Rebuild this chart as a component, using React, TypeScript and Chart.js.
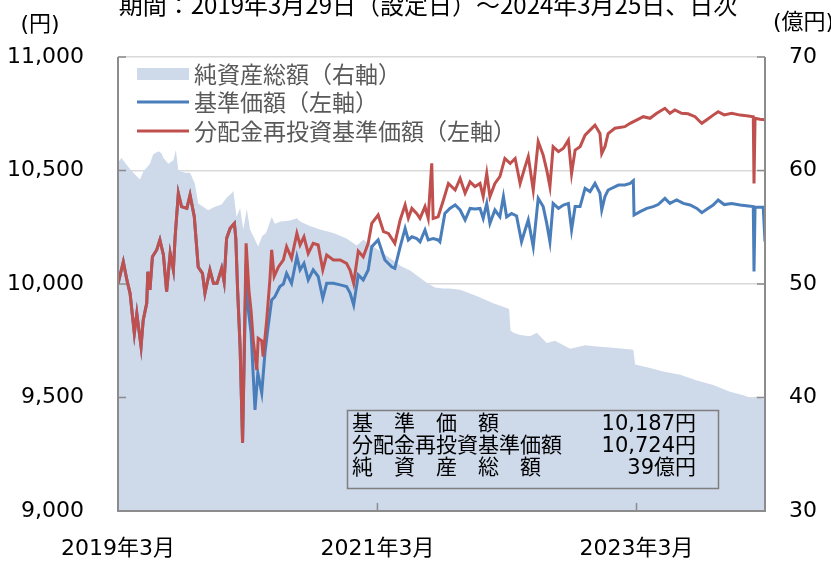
import React, { useEffect, useRef } from 'react';
import { Chart, registerables } from 'chart.js';

Chart.register(...registerables);

// x values are days since launch (2019-03-29); last day 2024-03-25
const lastDay = 1823;
const xTickDays = [0, 731, 1461];
const xTickLabels = ['2019年3月', '2021年3月', '2023年3月'];

// before the first distribution both price series coincide
const commonDays = [0, 15, 25, 34, 46, 53, 59, 65, 71, 81, 84, 90, 97, 109, 118, 128, 137, 147, 156, 161, 170, 179, 194, 203, 215, 226, 238, 245, 259, 269, 279, 292, 299, 306, 316, 328, 332, 337, 344, 351];
const commonValues = [10000, 10098, 10018, 9959, 9782, 9870, 9797, 9724, 9841, 9916, 10054, 9974, 10120, 10150, 10194, 10128, 9966, 10135, 10062, 10208, 10400, 10341, 10333, 10392, 10296, 10075, 10047, 9959, 10062, 10003, 10003, 10069, 10010, 10201, 10245, 10267, 10200, 9974, 9724, 9300];

// 分配金再投資基準価額 (red)
const reinvDays = [361, 369, 375, 381, 391, 395, 405, 409, 419, 428, 433, 440, 452, 466, 475, 489, 504, 513, 524, 536, 550, 564, 577, 588, 607, 626, 644, 654, 664, 677, 691, 705, 715, 733, 748, 762, 780, 795, 809, 818, 828, 842, 851, 865, 874, 884, 888, 902, 917, 931, 950, 964, 978, 992, 1006, 1020, 1029, 1039, 1048, 1062, 1076, 1090, 1105, 1119, 1133, 1147, 1156, 1170, 1184, 1198, 1208, 1217, 1226, 1241, 1255, 1269, 1278, 1288, 1302, 1316, 1330, 1344, 1358, 1363, 1372, 1381, 1400, 1428, 1443, 1461, 1480, 1499, 1518, 1541, 1555, 1569, 1588, 1606, 1626, 1640, 1645, 1660, 1677, 1691, 1708, 1729, 1753, 1776, 1790, 1792, 1795, 1809, 1823];
const reinvValues = [10179, 9970, 9880, 9753, 9621, 9761, 9750, 9680, 9841, 10018, 10150, 10033, 10075, 10106, 10164, 10113, 10223, 10172, 10208, 10135, 10179, 10172, 10062, 10128, 10106, 10106, 10091, 10060, 10003, 10145, 10120, 10179, 10267, 10304, 10231, 10223, 10179, 10282, 10348, 10290, 10333, 10310, 10289, 10341, 10290, 10532, 10289, 10296, 10370, 10443, 10414, 10465, 10400, 10450, 10429, 10443, 10385, 10487, 10385, 10443, 10473, 10553, 10531, 10553, 10443, 10517, 10561, 10414, 10627, 10568, 10502, 10429, 10605, 10583, 10598, 10634, 10487, 10590, 10605, 10656, 10678, 10700, 10663, 10575, 10605, 10663, 10686, 10693, 10708, 10722, 10737, 10730, 10752, 10774, 10752, 10767, 10752, 10750, 10737, 10715, 10708, 10725, 10744, 10759, 10745, 10752, 10744, 10740, 10737, 10443, 10730, 10726, 10724];

// 基準価額 (blue)
const navDays = [361, 365, 375, 386, 394, 405, 414, 423, 433, 442, 456, 466, 475, 489, 504, 513, 524, 536, 550, 564, 577, 588, 607, 626, 644, 654, 664, 677, 691, 705, 715, 733, 752, 771, 780, 795, 809, 818, 828, 842, 851, 865, 874, 888, 902, 907, 921, 935, 950, 964, 978, 992, 1006, 1020, 1029, 1039, 1048, 1062, 1076, 1086, 1095, 1109, 1123, 1137, 1147, 1156, 1170, 1184, 1198, 1208, 1217, 1226, 1241, 1255, 1269, 1278, 1288, 1302, 1316, 1330, 1344, 1358, 1363, 1372, 1381, 1410, 1428, 1443, 1452, 1454, 1471, 1490, 1508, 1522, 1541, 1555, 1574, 1593, 1612, 1631, 1645, 1660, 1677, 1691, 1708, 1729, 1753, 1776, 1790, 1792, 1795, 1818, 1823];
const navValues = [10090, 9915, 9784, 9445, 9608, 9520, 9696, 9812, 9930, 9944, 9989, 10000, 10047, 10003, 10120, 10062, 10091, 10018, 10062, 10033, 9937, 10003, 10003, 9996, 9989, 9960, 9908, 10040, 10018, 10062, 10164, 10194, 10106, 10076, 10069, 10164, 10245, 10194, 10208, 10200, 10186, 10238, 10194, 10200, 10194, 10186, 10311, 10333, 10348, 10326, 10282, 10333, 10330, 10333, 10289, 10355, 10267, 10326, 10296, 10385, 10296, 10311, 10300, 10186, 10238, 10282, 10164, 10377, 10341, 10267, 10186, 10355, 10333, 10348, 10355, 10238, 10341, 10341, 10421, 10407, 10443, 10400, 10326, 10385, 10414, 10436, 10436, 10443, 10455, 10304, 10319, 10333, 10341, 10350, 10377, 10355, 10370, 10355, 10348, 10333, 10314, 10330, 10348, 10370, 10350, 10355, 10348, 10344, 10341, 10055, 10338, 10338, 10187];

// 純資産総額 (億円, right axis)
const assetDays = [0, 10, 29, 43, 62, 71, 90, 99, 114, 123, 128, 142, 156, 163, 170, 189, 203, 217, 226, 240, 254, 273, 292, 306, 320, 325, 334, 344, 353, 363, 372, 386, 395, 406, 417, 433, 442, 459, 485, 504, 513, 541, 569, 607, 644, 673, 691, 710, 738, 775, 795, 823, 870, 893, 916, 935, 964, 1014, 1057, 1085, 1102, 1106, 1114, 1133, 1161, 1180, 1208, 1231, 1274, 1316, 1349, 1386, 1424, 1452, 1457, 1499, 1536, 1584, 1631, 1677, 1724, 1762, 1790, 1799, 1815, 1823];
const assetValues = [60.7, 61.1, 60.3, 59.8, 59.2, 59.9, 60.6, 61.4, 61.7, 61.5, 61.1, 60.6, 60.9, 61.8, 60.0, 59.8, 59.8, 58.8, 57.1, 56.8, 56.5, 56.8, 57.0, 57.6, 58.0, 58.2, 55.9, 56.7, 54.8, 56.6, 54.8, 53.9, 53.3, 54.2, 54.5, 55.9, 55.3, 55.5, 55.6, 55.8, 55.5, 55.1, 54.8, 54.5, 54.0, 53.4, 53.9, 53.5, 52.9, 52.1, 51.6, 51.2, 50.1, 49.7, 49.6, 49.6, 49.5, 48.9, 48.3, 48.0, 47.8, 45.9, 45.7, 45.5, 45.4, 45.7, 44.8, 45.0, 44.3, 44.6, 44.5, 44.4, 44.3, 44.2, 42.9, 42.6, 42.3, 42.0, 41.5, 41.1, 40.5, 40.2, 39.9, 40.1, 39.9, 39.8];

const titleText = '期間：2019年3月29日（設定日）～2024年3月25日、日次';
const legendLabels = ['純資産総額（右軸）', '基準価額（左軸）', '分配金再投資基準価額（左軸）'];
const infoLabels = ['基　準　価　額', '分配金再投資基準価額', '純　資　産　総　額'];
const infoValues = ['10,187円', '10,724円', '39億円'];

const AREA_COLOR = '#CED9EA';
const BLUE = '#4A7EBB';
const RED = '#C0504D';
const AXIS_COLOR = '#8C8C8C';
const FONT = "'DejaVu Sans', 'Noto Sans CJK JP', sans-serif";
const CJK = "'Noto Sans CJK JP', 'DejaVu Sans', sans-serif";

const toPoints = (xs: number[], ys: number[]) => xs.map((x, i) => ({ x, y: ys[i] }));

const overlayPlugin = {
  id: 'overlay',
  afterDatasetsDraw(chart: any) {
    const { ctx, chartArea: a, scales } = chart;
    ctx.save();
    ctx.strokeStyle = AXIS_COLOR;
    ctx.lineWidth = 2;
    ctx.beginPath();
    ctx.moveTo(a.left, a.top);
    ctx.lineTo(a.left, a.bottom);
    ctx.lineTo(a.right, a.bottom);
    ctx.lineTo(a.right, a.top);
    ctx.stroke();
    ctx.lineWidth = 1.5;
    ctx.beginPath();
    scales.y.ticks.forEach((t: any) => {
      const p = scales.y.getPixelForValue(t.value);
      ctx.moveTo(a.left, p);
      ctx.lineTo(a.left + 8, p);
    });
    scales.y2.ticks.forEach((t: any) => {
      const p = scales.y2.getPixelForValue(t.value);
      ctx.moveTo(a.right, p);
      ctx.lineTo(a.right - 8, p);
    });
    scales.x.ticks.forEach((t: any) => {
      const p = scales.x.getPixelForValue(t.value);
      ctx.moveTo(p, a.bottom);
      ctx.lineTo(p, a.bottom - 8);
    });
    ctx.stroke();
    ctx.restore();
  },
  afterDraw(chart: any) {
    const { ctx } = chart;
    ctx.save();
    // title
    ctx.fillStyle = '#000';
    ctx.font = `24px ${CJK}`;
    ctx.textAlign = 'center';
    ctx.textBaseline = 'alphabetic';
    ctx.fillText(titleText, 428, 14);
    // units
    ctx.font = `22px ${FONT}`;
    ctx.textBaseline = 'middle';
    ctx.fillText('(円)', 40, 25);
    ctx.textAlign = 'left';
    ctx.fillText('(億円)', 773, 23);
    // legend
    const ly = [74, 102, 131];
    ctx.fillStyle = AREA_COLOR;
    ctx.fillRect(137, 68, 52, 12);
    ctx.lineWidth = 3;
    ctx.strokeStyle = BLUE;
    ctx.beginPath();
    ctx.moveTo(137, ly[1]);
    ctx.lineTo(189, ly[1]);
    ctx.stroke();
    ctx.strokeStyle = RED;
    ctx.beginPath();
    ctx.moveTo(137, ly[2]);
    ctx.lineTo(189, ly[2]);
    ctx.stroke();
    ctx.fillStyle = '#595959';
    ctx.font = `23px ${CJK}`;
    ctx.textAlign = 'left';
    legendLabels.forEach((s, i) => ctx.fillText(s, 194, ly[i]));
    // info box
    ctx.strokeStyle = '#7F7F7F';
    ctx.lineWidth = 1.5;
    ctx.strokeRect(347.5, 410.5, 371, 78);
    ctx.fillStyle = '#000';
    ctx.font = `21px ${FONT}`;
    const iy = [425, 447, 469];
    infoLabels.forEach((s, i) => {
      ctx.textAlign = 'left';
      ctx.fillText(s, 352, iy[i]);
      ctx.textAlign = 'right';
      ctx.fillText(infoValues[i], 696, iy[i]);
    });
    ctx.restore();
  },
};

export default function App() {
  const ref = useRef<HTMLCanvasElement | null>(null);
  useEffect(() => {
    if (!ref.current) return;
    const tickFont = { family: FONT, size: 22 };
    const chart = new Chart(ref.current, {
      type: 'line',
      data: {
        datasets: [
          {
            label: legendLabels[2],
            data: toPoints(commonDays.concat(reinvDays), commonValues.concat(reinvValues)),
            borderColor: RED,
            borderWidth: 3,
            pointRadius: 0,
            fill: false,
            yAxisID: 'y',
            order: 0,
          },
          {
            label: legendLabels[1],
            data: toPoints(commonDays.concat(navDays), commonValues.concat(navValues)),
            borderColor: BLUE,
            borderWidth: 3,
            pointRadius: 0,
            fill: false,
            yAxisID: 'y',
            order: 1,
          },
          {
            label: legendLabels[0],
            data: toPoints(assetDays, assetValues),
            borderColor: AREA_COLOR,
            backgroundColor: AREA_COLOR,
            borderWidth: 0,
            pointRadius: 0,
            fill: 'start',
            yAxisID: 'y2',
            order: 2,
          },
        ],
      },
      options: {
        responsive: false,
        animation: false,
        devicePixelRatio: 1,
        layout: { padding: { top: 57, left: 0, right: 0, bottom: 0 } },
        elements: { line: { tension: 0 }, point: { radius: 0 } },
        plugins: {
          legend: { display: false },
          tooltip: { enabled: false },
          title: { display: false },
        },
        scales: {
          x: {
            type: 'linear',
            min: 0,
            max: lastDay,
            afterBuildTicks: (s: any) => {
              s.ticks = xTickDays.map((v) => ({ value: v }));
            },
            afterFit: (s: any) => {
              s.height = 51;
            },
            ticks: {
              autoSkip: false,
              maxRotation: 0,
              padding: 25,
              color: '#000',
              font: tickFont,
              callback: (v: any) => {
                const i = xTickDays.indexOf(Number(v));
                return i >= 0 ? xTickLabels[i] : '';
              },
            },
            grid: { display: false, drawTicks: false },
            border: { display: false },
          },
          y: {
            position: 'left',
            min: 9000,
            max: 11000,
            afterFit: (s: any) => {
              s.width = 118;
            },
            ticks: {
              stepSize: 500,
              padding: 34,
              color: '#000',
              font: tickFont,
              callback: (v: any) => Number(v).toLocaleString('en-US'),
            },
            grid: { color: '#D9D9D9', lineWidth: 1.5, drawTicks: false },
            border: { display: false },
          },
          y2: {
            position: 'right',
            min: 30,
            max: 70,
            afterFit: (s: any) => {
              s.width = 66;
            },
            ticks: { stepSize: 10, padding: 24, color: '#000', font: tickFont },
            grid: { drawOnChartArea: false, drawTicks: false },
            border: { display: false },
          },
        },
      },
      plugins: [overlayPlugin],
    } as any);
    return () => chart.destroy();
  }, []);
  return (
    <div style={{ position: 'absolute', left: 0, top: 0, width: 831, height: 562 }}>
      <canvas ref={ref} width={831} height={562} style={{ display: 'block' }} />
    </div>
  );
}
